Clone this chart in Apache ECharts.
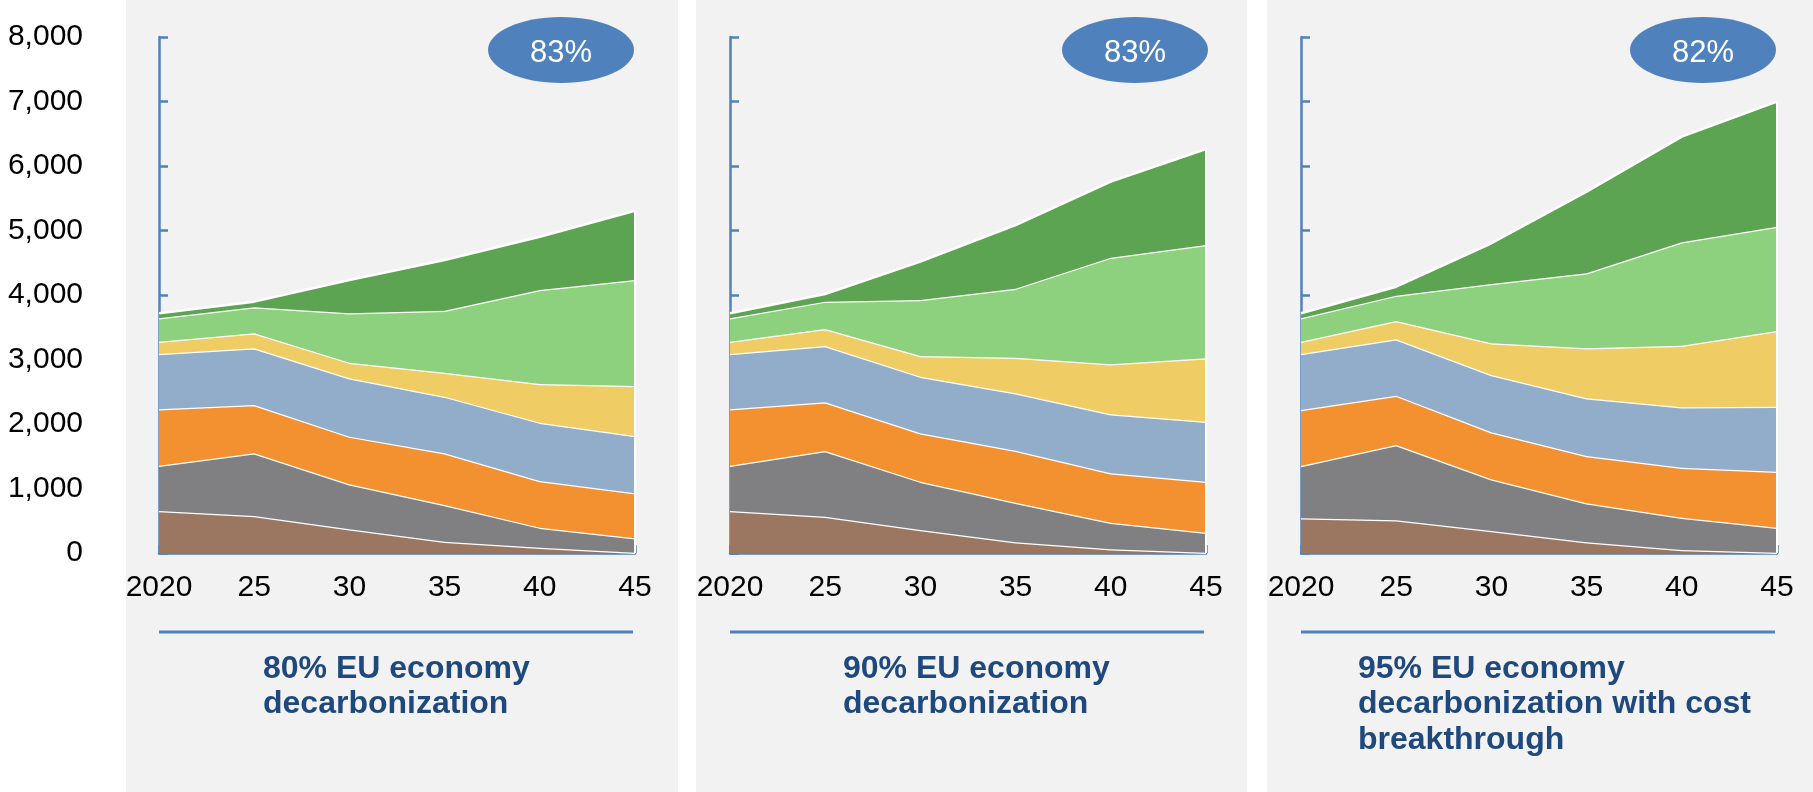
<!DOCTYPE html>
<html>
<head>
<meta charset="utf-8">
<script src="https://cdn.jsdelivr.net/npm/echarts@6/dist/echarts.min.js"></script>
<style>
html,body{margin:0;padding:0;background:#fff;}
#c{width:1813px;height:792px;}
</style>
</head>
<body>
<div id="c"></div>
<script>
// Categories and tick labels
const years = ['2020', '25', '30', '35', '40', '45'];
const yTicks = { min: 0, max: 8000, interval: 1000 };

// Scenario titles and bubble values
const scenarioTitles = [
  '80% EU economy\ndecarbonization',
  '90% EU economy\ndecarbonization',
  '95% EU economy\ndecarbonization with cost\nbreakthrough'
];
const bubbleLabels = ['83%', '83%', '82%'];

// Layer names (bottom to top)
const layerNames = ['Layer 1', 'Layer 2', 'Layer 3', 'Layer 4', 'Layer 5', 'Layer 6', 'Layer 7'];

// Scenario 1 (80%)
const s1_brown  = [650, 575, 367, 176, 83, 5];
const s1_gray   = [704, 970, 698, 568, 310, 222];
const s1_orange = [874, 750, 739, 801, 723, 698];
const s1_blue   = [857, 878, 904, 879, 905, 889];
const s1_yellow = [191, 233, 243, 372, 599, 775];
const s1_lgreen = [362, 403, 765, 961, 1458, 1644];
const s1_dgreen = [78, 88, 517, 786, 826, 1074];

// Scenario 2 (90%)
const s2_brown  = [650, 563, 357, 165, 57, 5];
const s2_gray   = [704, 1018, 749, 615, 413, 310];
const s2_orange = [874, 755, 749, 806, 765, 791];
const s2_blue   = [857, 873, 879, 890, 915, 930];
const s2_yellow = [191, 264, 320, 552, 775, 982];
const s2_lgreen = [362, 424, 868, 1070, 1654, 1757];
const s2_dgreen = [78, 119, 595, 987, 1178, 1489];

// Scenario 3 (95% with cost breakthrough)
const s3_brown  = [537, 507, 341, 165, 47, 5];
const s3_gray   = [812, 1167, 801, 605, 501, 388];
const s3_orange = [868, 765, 729, 734, 775, 868];
const s3_blue   = [868, 874, 889, 894, 935, 1007];
const s3_yellow = [191, 284, 491, 775, 956, 1174];
const s3_lgreen = [362, 393, 920, 1163, 1603, 1617];
const s3_dgreen = [78, 139, 631, 1266, 1638, 1938];

const scenarios = [
  [s1_brown, s1_gray, s1_orange, s1_blue, s1_yellow, s1_lgreen, s1_dgreen],
  [s2_brown, s2_gray, s2_orange, s2_blue, s2_yellow, s2_lgreen, s2_dgreen],
  [s3_brown, s3_gray, s3_orange, s3_blue, s3_yellow, s3_lgreen, s3_dgreen]
];

const layerColors = ['#9B7660', '#808083', '#F39030', '#92ADCA', '#F0CD64', '#8DD17E', '#5CA352'];
const axisBlue = '#4F81BD';
const titleBlue = '#1F497D';
const FONT = '"Liberation Sans", Arial, sans-serif';

const gridLefts = [159, 730, 1301];
const gridWidth = 476;
const gridTop = 37;
const gridHeight = 516;
const panelRects = [[126, 552], [696, 551], [1267, 546]];
const titleLefts = [263, 843, 1358];
const bubbleCx = [561, 1135, 1703];

const chart = echarts.init(document.getElementById('c'), null, { renderer: 'canvas' });

const grids = [], xAxes = [], yAxes = [], series = [], titles = [], graphics = [];

for (let p = 0; p < 3; p++) {
  grids.push({ left: gridLefts[p], top: gridTop, width: gridWidth, height: gridHeight, containLabel: false });
  xAxes.push({
    type: 'category', gridIndex: p, data: years, boundaryGap: false,
    axisLine: { show: true, lineStyle: { color: axisBlue, width: 2.5 } },
    axisTick: { show: true, inside: true, length: 8, lineStyle: { color: axisBlue, width: 2.5 } },
    axisLabel: { show: true, color: '#000', fontSize: 30, fontFamily: FONT, margin: 20, interval: 0 },
    splitLine: { show: false }
  });
  yAxes.push({
    type: 'value', gridIndex: p, min: yTicks.min, max: yTicks.max, interval: yTicks.interval,
    axisLine: { show: true, lineStyle: { color: axisBlue, width: 2.5 } },
    axisTick: { show: true, inside: true, length: 9, lineStyle: { color: axisBlue, width: 2.5 } },
    axisLabel: {
      show: p === 0, color: '#000', fontSize: 30, fontFamily: FONT, margin: 76,
      padding: [8, 0, 0, 0],
      formatter: v => v.toLocaleString('en-US')
    },
    splitLine: { show: false }
  });
  const layers = scenarios[p];
  const lastIdx = years.length - 1;
  const totalEnd = layers.reduce((s, a) => s + a[lastIdx], 0);
  layers.forEach((arr, i) => {
    const s = {
      name: layerNames[i], type: 'line', xAxisIndex: p, yAxisIndex: p,
      stack: 'stack' + p, data: arr, symbol: 'none', smooth: false,
      lineStyle: { color: '#fff', width: 2.5 },
      itemStyle: { color: layerColors[i] },
      areaStyle: { color: layerColors[i], opacity: 1 },
      silent: true, animation: false, z: 2 + i * 0.01
    };
    if (i === layers.length - 1) {
      s.markLine = {
        silent: true, symbol: 'none', animation: false, label: { show: false },
        lineStyle: { color: '#fff', width: 2, type: 'solid' },
        data: [[{ coord: [years[lastIdx], 0] }, { coord: [years[lastIdx], totalEnd] }]]
      };
    }
    series.push(s);
  });
  titles.push({
    text: scenarioTitles[p], left: titleLefts[p], top: 651, padding: 0,
    textAlign: 'left',
    textStyle: { color: titleBlue, fontSize: 32, fontWeight: 'bold', fontFamily: FONT, lineHeight: 35.5 }
  });
  graphics.push({
    type: 'rect', z: -10, silent: true,
    shape: { x: panelRects[p][0], y: 0, width: panelRects[p][1], height: 792 },
    style: { fill: '#F2F2F2' }
  });
  graphics.push({
    type: 'line', z: 10, silent: true,
    shape: { x1: gridLefts[p], y1: 632, x2: gridLefts[p] + gridWidth - 2, y2: 632 },
    style: { stroke: axisBlue, lineWidth: 3 }
  });
  graphics.push({
    type: 'ellipse', z: 10, silent: true,
    shape: { cx: bubbleCx[p], cy: 50, rx: 73, ry: 33 },
    style: { fill: axisBlue }
  });
  graphics.push({
    type: 'text', z: 11, silent: true,
    x: bubbleCx[p], y: 53,
    style: { text: bubbleLabels[p], fill: '#fff', font: '31px ' + FONT, textAlign: 'center', textVerticalAlign: 'middle' }
  });
}

chart.setOption({
  animation: false,
  backgroundColor: '#fff',
  title: titles,
  grid: grids,
  xAxis: xAxes,
  yAxis: yAxes,
  series: series,
  graphic: { elements: graphics }
});
</script>
</body>
</html>
